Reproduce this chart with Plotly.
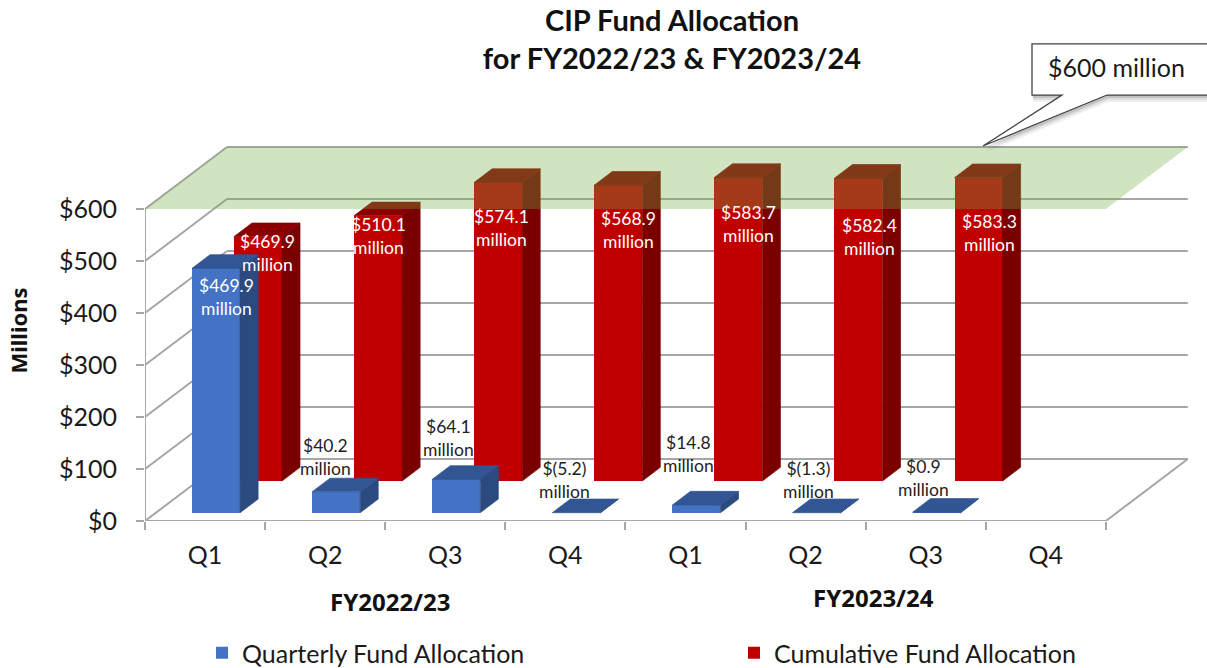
import plotly.graph_objects as go

# ---------- data ----------
quarters = ["Q1", "Q2", "Q3", "Q4", "Q1", "Q2", "Q3", "Q4"]
quarterly = [469.9, 40.2, 64.1, -5.2, 14.8, -1.3, 0.9, None]
cumulative = [469.9, 510.1, 574.1, 568.9, 583.7, 582.4, 583.3, None]
y_ticks = [0, 100, 200, 300, 400, 500, 600]
y_tick_labels = ["$0", "$100", "$200", "$300", "$400", "$500", "$600"]
limit = 600
fiscal_years = ["FY2022/23", "FY2023/24"]

# ---------- label nudges (px, relative to top-centre of the bar's front face) ----------
blue_nudge = [(10, 29), (-11, -35), (-8, -41), (-12, -33), (-8, -51), (-8, -33), (-13, -34)]
red_nudge = [(10, 16), (0, 20), (3, 46), (10, 45), (10, 47), (11, 59), (11, 55)]

# ---------- geometry / style ----------
W, H = 1207, 668
L, R, T, B = 145, 17, 140, 147
PX_X = 120.1
PX_Y = 0.52
DX = 82 / PX_X      # full floor depth in x units
DY = 62 / PX_Y      # full floor depth in y units
BAR_W = 0.4
BAR_D = 0.22
D_BLUE = 0.134
D_RED = 0.645
GRID = "#a6a6a6"
FONT = "Lato"
x_max = (W - L - R) / PX_X
y_max = (H - T - B) / PX_Y


def px(x, y):
    return (x - L) / (W - L - R), (H - B - y) / (H - T - B)


def solid(v):
    return max(v, 0)


def poly(pts, color, edge=0):
    return go.Scatter(x=[p[0] for p in pts] + [pts[0][0]], y=[p[1] for p in pts] + [pts[0][1]],
                      mode="lines", line=dict(width=edge, color=color), fill="toself", fillcolor=color,
                      showlegend=False, hoverinfo="skip")


def proj(x, y, d):
    return x + d * DX, y + d * DY


def box_faces(i, v, d0, side, top):
    h = solid(v)
    x0, x1 = i + 0.5 - BAR_W / 2, i + 0.5 + BAR_W / 2
    d1 = d0 + BAR_D
    return [
        poly([proj(x1, 0, d0), proj(x1, 0, d1), proj(x1, h, d1), proj(x1, h, d0)], side, 0.7),
        poly([proj(x0, h, d0), proj(x1, h, d0), proj(x1, h, d1), proj(x0, h, d1)], top, 0.7),
    ]


fig = go.Figure()
idx = [i for i, v in enumerate(quarterly) if v is not None]

fig.add_bar(name="Cumulative Fund Allocation", legend="legend2",
            x=[proj(i + 0.5, 0, D_RED)[0] for i in idx],
            y=[solid(cumulative[i]) for i in idx],
            base=[proj(0, 0, D_RED)[1]] * len(idx),
            width=BAR_W, marker=dict(color="#C00000", line=dict(width=0)), hoverinfo="skip")
fig.add_bar(name="Quarterly Fund Allocation", legend="legend",
            x=[proj(i + 0.5, 0, D_BLUE)[0] for i in idx],
            y=[solid(quarterly[i]) for i in idx],
            base=[proj(0, 0, D_BLUE)[1]] * len(idx),
            width=BAR_W, marker=dict(color="#4472C4", line=dict(width=0)), hoverinfo="skip")

for i in idx:
    for t in box_faces(i, cumulative[i], D_RED, "#7A0000", "#8A0000"):
        fig.add_trace(t)
for i in idx:
    for t in box_faces(i, quarterly[i], D_BLUE, "#2A4A80", "#325594"):
        fig.add_trace(t)

# translucent $600 plane, on top of the bars
fig.add_trace(poly([proj(0, limit, 0), proj(8, limit, 0), proj(8, limit, 1), proj(0, limit, 1)],
                   "rgba(112,173,71,0.33)"))

# ---------- walls ----------
shapes = []


def seg(a, b):
    shapes.append(dict(type="line", xref="x", yref="y", x0=a[0], y0=a[1], x1=b[0], y1=b[1],
                       line=dict(color=GRID, width=2), layer="below"))


for v in y_ticks:
    seg(proj(0, v, 0), proj(0, v, 1))
    seg(proj(0, v, 1), proj(8, v, 1))
seg((0, 0), (0, limit))
seg((0, 0), (8, 0))
seg((8, 0), proj(8, 0, 1))

# ---------- callout ----------
def path(pts):
    out = []
    for k, (a, b) in enumerate(pts):
        fx, fy = px(a, b)
        out.append(f"{'M' if k == 0 else 'L'}{fx:.5f},{fy:.5f}")
    return " ".join(out) + " Z"


outline = [(1032, 44), (1215, 44), (1215, 95), (1107, 95), (983, 146), (1062, 95), (1032, 95)]
for off, alpha in [(7, 0.06), (5, 0.08), (3, 0.12)]:
    shapes.append(dict(type="path", xref="paper", yref="paper", layer="above",
                       path=path([(a + off * 0.2, b + off) for a, b in outline]),
                       fillcolor=f"rgba(0,0,0,{alpha})", line=dict(width=0)))
shapes.append(dict(type="path", xref="paper", yref="paper", layer="above", path=path(outline),
                   fillcolor="white", line=dict(color="#404040", width=1.25)))

# ---------- text ----------
annotations = []


def money(v):
    return f"$({abs(v):.1f})" if v < 0 else f"${v:.1f}"


for i in idx[:len(blue_nudge)]:
    nx, ny = blue_nudge[i]
    cx, cy = proj(i + 0.5, solid(quarterly[i]), D_BLUE)
    inside = i == 0
    annotations.append(dict(x=cx + nx / PX_X, y=cy - ny / PX_Y, xref="x", yref="y",
                            xanchor="center", yanchor="middle",
                            text=f"{money(quarterly[i])}<br>million", showarrow=False,
                            font=dict(family=FONT, size=17.5, color="white" if inside else "#222222")))
for i in idx[:len(red_nudge)]:
    nx, ny = red_nudge[i]
    cx, cy = proj(i + 0.5, solid(cumulative[i]), D_RED)
    annotations.append(dict(x=cx + nx / PX_X, y=cy - ny / PX_Y, xref="x", yref="y",
                            xanchor="center", yanchor="middle",
                            text=f"{money(cumulative[i])}<br>million", showarrow=False,
                            font=dict(family=FONT, size=17.5, color="white")))

fx, fy = px(1116, 67)
annotations.append(dict(x=fx, y=fy, xref="paper", yref="paper", xanchor="center", yanchor="middle",
                        text="$600 million", showarrow=False,
                        font=dict(family=FONT, size=25, color="#1a1a1a")))
for name, (a, b) in zip(fiscal_years, [(390, 601), (873, 597)]):
    fx, fy = px(a, b)
    annotations.append(dict(x=fx, y=fy, xref="paper", yref="paper", xanchor="center", yanchor="middle",
                            text=f"<b>{name}</b>", showarrow=False,
                            font=dict(family="Noto Sans", size=24, color="#111111")))

legend_style = dict(orientation="h", xanchor="left", yanchor="top", y=px(0, 630)[1],
                    font=dict(family=FONT, size=25, color="#1a1a1a"),
                    bgcolor="rgba(0,0,0,0)", borderwidth=0)

fig.update_layout(
    width=W, height=H, autosize=False,
    margin=dict(l=L, r=R, t=T, b=B, pad=0, autoexpand=False),
    paper_bgcolor="white", plot_bgcolor="rgba(0,0,0,0)",
    barmode="overlay", bargap=0,
    font=dict(family=FONT, color="#1a1a1a"),
    title=dict(text="<b>CIP Fund Allocation<br>for FY2022/23 & FY2023/24</b>",
               x=672 / W, xanchor="center", xref="container", y=1 - 31 / H, yanchor="top", yref="container",
               font=dict(family=FONT, size=29, color="#111111")),
    xaxis=dict(range=[0, x_max], showgrid=False, zeroline=False, showline=False,
               tickmode="array", tickvals=[i + 0.5 for i in range(8)], ticktext=quarters,
               ticks="", tickfont=dict(family=FONT, size=25, color="#1a1a1a"), ticklabelstandoff=17,
               minor=dict(tickmode="array", tickvals=list(range(9)), ticks="outside", ticklen=8,
                          tickwidth=2, tickcolor=GRID, showgrid=False)),
    yaxis=dict(range=[0, y_max], showgrid=False, zeroline=False, showline=False,
               tickmode="array", tickvals=y_ticks, ticktext=y_tick_labels,
               ticks="outside", ticklen=8, tickwidth=2, tickcolor=GRID, ticklabelstandoff=14,
               tickfont=dict(family=FONT, size=25, color="#1a1a1a"),
               title=dict(text="<b>Millions</b>", standoff=25,
                          font=dict(family="Noto Sans", size=22, color="#111111"))),
    legend=dict(x=px(202, 0)[0], **legend_style),
    legend2=dict(x=px(734, 0)[0], **legend_style),
    shapes=shapes, annotations=annotations,
)

fig.write_html("out.html", post_script="document.body.style.margin='0';",
               config={"displayModeBar": False})
